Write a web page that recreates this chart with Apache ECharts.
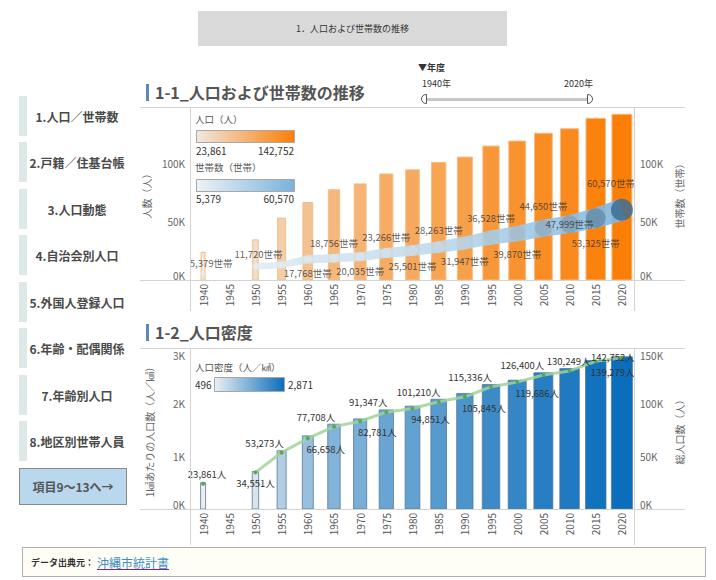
<!DOCTYPE html>
<html><head><meta charset="utf-8">
<script src="https://cdn.jsdelivr.net/npm/echarts@6/dist/echarts.min.js"></script>
<style>
html,body{margin:0;padding:0;}
body{width:716px;height:580px;background:#fff;font-family:"Noto Sans CJK JP","Noto Sans",sans-serif;overflow:hidden;position:relative;}
#chart{position:absolute;left:0;top:0;width:716px;height:580px;z-index:1;}
.abs{position:absolute;z-index:2;}
.hdr{left:198px;top:11px;width:309px;height:35px;background:#dadada;font-size:9px;color:#333;text-align:center;line-height:35px;}
.nav{left:19px;width:108px;height:40px;border-left:8px solid #dde9e6;box-sizing:border-box;font-weight:bold;font-size:12px;color:#4a4a4a;display:flex;align-items:center;justify-content:center;white-space:nowrap;}
.btn{left:19px;top:468px;width:108px;height:37px;box-sizing:border-box;background:#b9d8ee;border:1px solid #8a8a8a;font-weight:bold;font-size:12px;color:#555;display:flex;align-items:center;justify-content:center;}
.sec{left:146px;border-left:3px solid #5a8ab5;padding-left:6px;font-size:16px;font-weight:bold;color:#555;line-height:17px;height:17px;white-space:nowrap;}
.sm{font-size:9px;color:#333;white-space:nowrap;}
.track{left:426px;top:98px;width:162px;height:3px;background:#c8c8c8;}
.hl{left:421px;top:94px;width:6px;height:10px;box-sizing:border-box;border:1px solid #555;border-radius:5px 0 0 5px;background:#fff;}
.hr{left:587px;top:94px;width:6px;height:10px;box-sizing:border-box;border:1px solid #555;border-radius:0 5px 5px 0;background:#fff;}
.foot{left:22px;top:547px;width:684px;height:30px;box-sizing:border-box;border:1px solid #b0b0b0;background:#fffef6;display:flex;align-items:center;padding-left:8px;}
.foot b{font-size:9px;color:#333;}
.foot a{font-size:12px;color:#3b8ec2;text-decoration:underline;text-decoration-color:#7a1fa2;margin-left:3px;}
</style></head>
<body>
<div id="chart"></div>
<div class="abs hdr">1．人口および世帯数の推移</div>
<div class="abs nav" style="top:96px">1.人口／世帯数</div>
<div class="abs nav" style="top:142px">2.戸籍／住基台帳</div>
<div class="abs nav" style="top:189px">3.人口動態</div>
<div class="abs nav" style="top:235px">4.自治会別人口</div>
<div class="abs nav" style="top:282px">5.外国人登録人口</div>
<div class="abs nav" style="top:328px">6.年齢・配偶関係</div>
<div class="abs nav" style="top:375px">7.年齢別人口</div>
<div class="abs nav" style="top:421px">8.地区別世帯人員</div>
<div class="abs btn">項目9～13へ→</div>
<div class="abs sec" style="top:84px">1-1_人口および世帯数の推移</div>
<div class="abs sec" style="top:324px">1-2_人口密度</div>
<div class="abs sm" style="left:418px;top:61px;font-weight:bold;">▼年度</div>
<div class="abs sm" style="left:422px;top:77px;">1940年</div>
<div class="abs sm" style="left:564px;top:77px;">2020年</div>
<div class="abs track"></div>
<div class="abs hl"></div>
<div class="abs hr"></div>
<div class="abs foot"><b>データ出典元：</b><a href="#">沖縄市統計書</a></div>
<script>
// ---- data ----
const years = ['1940','1945','1950','1955','1960','1965','1970','1975','1980','1985','1990','1995','2000','2005','2010','2015','2020'];
const population = [23861,null,34551,53273,66658,77708,82781,91347,94851,101210,105845,115336,119686,126400,130249,139279,142752];
const households = [5379,null,11720,13000,17768,18756,20035,23266,25501,28263,31947,36528,39870,44650,47999,53325,60570];
const density = [496,null,709,1100,1380,1600,1700,1870,1940,2070,2180,2350,2430,2570,2650,2800,2871];
const popLegendText = ['23,861','142,752'];
const hhLegendText = ['5,379','60,570'];
const densLegendText = ['496','2,871'];

// ---- label placement (style) ----
const hhLabelPos = ['top','-','top','none','bottom','top','bottom','top','bottom','top','bottom','top','bottom','top','inside','bottom','top'];
const hhLabelDx  = [8,0,3,0,0,0,0,0,0,0,0,0,0,0,0,0,-11];
const popLabelPos = ['top','-','bottom','top','bottom','top','bottom','top','bottom','top','bottom','top','bottom','top','top','bottom','top'];
const popLabelDx  = [4,0,0,-17,18,-18,17,-18,18,-20,19,-21,20,-21,-1,17,-9];
const popLabelDy  = [0,0,0,0,0,0,0,0,0,0,0,0,0,0,0,0,9];

const FONT = '"Noto Sans CJK JP","Noto Sans",sans-serif';
function nn(a){return a.filter(v=>v!=null);}
const popMin=Math.min(...nn(population)), popMax=Math.max(...nn(population));
const hhMin=Math.min(...nn(households)), hhMax=Math.max(...nn(households));
const dMin=Math.min(...nn(density)), dMax=Math.max(...nn(density));
function hex(h){h=h.replace('#','');return [0,2,4].map(k=>parseInt(h.substr(k,2),16));}
function lerp(a,b,t){const pa=hex(a),pb=hex(b);return 'rgb('+[0,1,2].map(k=>Math.round(pa[k]+(pb[k]-pa[k])*t)).join(',')+')';}
const OR=['#efe8e1','#fb7f06'], HB=['#eef2f5','#78b3dd'], HBD=['#e4edf4','#3c6f95'], DB=['#eceff2','#0a6ebc'];
function orange(v){return lerp(OR[0],OR[1],(v-popMin)/(popMax-popMin));}
function hhCol(v){return lerp(HB[0],HB[1],(v-hhMin)/(hhMax-hhMin));}
function hhBead(v){const t=(v-hhMin)/(hhMax-hhMin);return lerp(HBD[0],HBD[1],t*t);}
function blue(v){return lerp(DB[0],DB[1],(v-dMin)/(dMax-dMin));}
function hhW(v){return 4+(v-hhMin)/(hhMax-hhMin)*18;}
const kfmt = v => (v/1000)+'K';
const nfmt = v => Number(v).toLocaleString('en-US');

function yAx(grid, pos, max, name, gap){
  return {gridIndex:grid,type:'value',position:pos,min:0,max:max,interval:50000,
    name:name,nameLocation:'middle',nameGap:gap,nameRotate:90,
    nameTextStyle:{color:'#666',fontSize:10,fontFamily:FONT},
    axisLine:{show:false},axisTick:{show:false},splitLine:{show:false},
    axisLabel:{formatter:kfmt,color:'#666',fontSize:10,margin:5,showMaxLabel:false,verticalAlignMinLabel:'bottom',fontFamily:FONT}};
}
function xAx(grid){
  return {gridIndex:grid,type:'category',data:years,boundaryGap:true,
    axisLine:{show:false},axisTick:{show:false},splitLine:{show:false},
    axisLabel:{interval:0,rotate:90,color:'#555',fontSize:10,margin:4,fontFamily:FONT}};
}

const yAxes=[
  yAx(0,'left',149000,'人数（人）',36),
  yAx(0,'right',149000,'世帯数（世帯）',34),
  Object.assign(yAx(1,'left',3000,'1㎢あたりの人口数（人／㎢）',36),{interval:1000}),
  yAx(1,'right',150000,'総人口数（人）',34)
];
yAxes[2].axisLabel=Object.assign({},yAxes[2].axisLabel,{showMaxLabel:true,verticalAlignMaxLabel:'top'});
yAxes[3].axisLabel=Object.assign({},yAxes[3].axisLabel,{showMaxLabel:true,verticalAlignMaxLabel:'top'});

const popData = population.map((v,i)=>v==null?null:[i,v]).filter(Boolean);
const hhData = households.map((v,i)=>v==null?null:[i,v]).filter(Boolean);
const dData = density.map((v,i)=>v==null?null:[i,v]).filter(Boolean);

const series=[
 {type:'custom',xAxisIndex:0,yAxisIndex:0,data:popData,encode:{x:0,y:1},z:2,
  renderItem:function(p,api){const i=api.value(0),v=api.value(1);const c=api.coord([i,v]),b=api.coord([i,0]);
    const w=4+(v-popMin)/(popMax-popMin)*16;
    return {type:'rect',shape:{x:c[0]-w/2,y:c[1],width:w,height:b[1]-c[1]},style:{fill:orange(v),stroke:'#f4bd85',lineWidth:1}};}},
 {type:'custom',xAxisIndex:0,yAxisIndex:1,data:hhData,encode:{x:0,y:1},z:3,
  renderItem:function(p,api){const i=api.value(0),v=api.value(1);const pt=api.coord([i,v]);const d=hhW(v);
    const ch=[];const nv=households[i+1];
    if(i+1<years.length && nv!=null){const q=api.coord([i+1,nv]);const dq=hhW(nv);
      const dx=q[0]-pt[0],dy=q[1]-pt[1],L=Math.hypot(dx,dy),nx=-dy/L,ny=dx/L;
      ch.push({type:'polygon',shape:{points:[[pt[0]+nx*d/2,pt[1]+ny*d/2],[q[0]+nx*dq/2,q[1]+ny*dq/2],[q[0]-nx*dq/2,q[1]-ny*dq/2],[pt[0]-nx*d/2,pt[1]-ny*d/2]]},
        style:{fill:new echarts.graphic.LinearGradient(pt[0],pt[1],q[0],q[1],[{offset:0,color:hhCol(v)},{offset:1,color:hhCol(nv)}],true),opacity:0.9}});}
    ch.push({type:'circle',shape:{cx:pt[0],cy:pt[1],r:d/2},style:{fill:hhBead(v),opacity:0.85}});
    return {type:'group',children:ch};}},
 {type:'scatter',xAxisIndex:0,yAxisIndex:1,symbol:'circle',symbolSize:1,silent:true,z:5,
  itemStyle:{color:'rgba(0,0,0,0)'},
  data:households.map((v,i)=>{ if(v==null) return null; const pos=hhLabelPos[i]; const d=hhW(v);
    return {value:[years[i],v],label:{show:pos!=='none',position:pos==='none'?'top':pos,distance:pos==='top'?0.9*d+2:(pos==='bottom'?d:0),offset:[hhLabelDx[i],0]}};}).filter(Boolean),
  label:{show:true,color:'#333',fontSize:9.5,fontFamily:FONT,formatter:p=>nfmt(p.value[1])+'世帯'}},
 {type:'custom',xAxisIndex:1,yAxisIndex:2,data:dData,encode:{x:0,y:1},z:2,
  renderItem:function(p,api){const i=api.value(0),v=api.value(1);const c=api.coord([i,v]),b=api.coord([i,0]);
    const w=5+(v-dMin)/(dMax-dMin)*16;
    return {type:'rect',shape:{x:c[0]-w/2,y:c[1],width:w,height:b[1]-c[1]},style:{fill:blue(v),stroke:'#58799a',lineWidth:0.8}};}},
 {type:'line',xAxisIndex:1,yAxisIndex:3,z:4,connectNulls:false,symbol:'circle',symbolSize:4,
  lineStyle:{color:'#9fd39a',width:3,opacity:0.85},itemStyle:{color:'#5aa55a'},
  data:population.map((v,i)=>v==null?'-':{value:v,label:{position:popLabelPos[i],distance:popLabelPos[i]==='top'?3:4,offset:[popLabelDx[i],popLabelDy[i]]}}),
  label:{show:true,color:'#333',fontSize:9.5,fontFamily:FONT,formatter:p=>nfmt(p.value)+'人'}}
];

function L(x1,y1,x2,y2){return {type:'line',z:10,silent:true,shape:{x1,y1,x2,y2},style:{stroke:'#d4d4d4',lineWidth:1}};}
function T(text,x,y,align,size,color){return {type:'text',z:10,silent:true,style:{text,x,y,align:align||'left',verticalAlign:'middle',textAlign:align||'left',textVerticalAlign:'middle',fontSize:size||10,fontFamily:FONT,fill:color||'#333'}};}
function G(x,y,w,h,c){return {type:'rect',z:10,silent:true,shape:{x,y,width:w,height:h},style:{fill:new echarts.graphic.LinearGradient(0,0,1,0,[{offset:0,color:c[0]},{offset:1,color:c[1]}]),stroke:'#a8a8a8',lineWidth:1}};}

const graphics=[
  L(140,107.5,685,107.5),L(140,280.5,685,280.5),L(190.5,107,190.5,311),L(634.5,107,634.5,311),
  L(140,348.5,685,348.5),L(140,509.5,685,509.5),L(190.5,348,190.5,545),L(634.5,348,634.5,545),
  T('人口（人）',195,119,'left',9.5,'#555'),G(196.5,130.5,98,12,OR),
  T(popLegendText[0],196,150,'left',10,'#333'),T(popLegendText[1],294,150,'right',10,'#333'),
  T('世帯数（世帯）',195,167,'left',9.5,'#555'),G(196.5,179.5,98,12,HB),
  T(hhLegendText[0],196,198,'left',10,'#333'),T(hhLegendText[1],294,198,'right',10,'#333'),
  T('人口密度（人／㎢）',195,367,'left',9.5,'#555'),G(214.5,377.5,70,14,DB),
  T(densLegendText[0],195,384,'left',10,'#333'),T(densLegendText[1],288,384,'left',10,'#333')
];

const chart=echarts.init(document.getElementById('chart'),null,{renderer:'svg'});
chart.setOption({
  animation:false,
  textStyle:{fontFamily:FONT},
  grid:[{left:190,top:107,width:445,height:173,outerBoundsMode:'none',containLabel:false},
        {left:190,top:350,width:445,height:159,outerBoundsMode:'none',containLabel:false}],
  xAxis:[xAx(0),xAx(1)],
  yAxis:yAxes,
  series:series,
  graphic:graphics
});
</script>
</body></html>
